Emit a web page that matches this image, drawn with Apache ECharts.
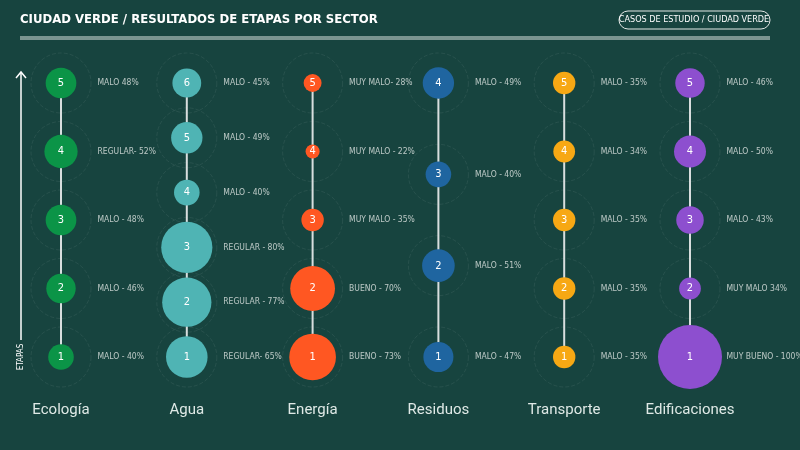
<!DOCTYPE html><html><head><meta charset="utf-8"><script src="https://cdn.jsdelivr.net/npm/echarts@6/dist/echarts.min.js"></script>
<style>html,body{margin:0;background:#17443f}#c{width:800px;height:450px}</style></head><body><div id="c"></div><script>
const sectors=['Ecología','Agua','Energía','Residuos','Transporte','Edificaciones'];
const colors=['#0b9447','#4fb4b4','#ff5722','#1f65a0','#f7a814','#8d4fcf'];
const pct=[[40,46,48,52,48],[65,77,80,40,49,45],[73,70,35,22,28],[47,51,40,49],[35,35,35,34,35],[100,34,43,50,46]];
const labels=[
['MALO - 40%','MALO - 46%','MALO - 48%','REGULAR- 52%','MALO 48%'],
['REGULAR- 65%','REGULAR - 77%','REGULAR - 80%','MALO - 40%','MALO - 49%','MALO - 45%'],
['BUENO - 73%','BUENO - 70%','MUY MALO - 35%','MUY MALO - 22%','MUY MALO- 28%'],
['MALO - 47%','MALO - 51%','MALO - 40%','MALO - 49%'],
['MALO - 35%','MALO - 35%','MALO - 35%','MALO - 34%','MALO - 35%'],
['MUY BUENO - 100%','MUY MALO 34%','MALO - 43%','MALO - 50%','MALO - 46%']];
const series=[];
const lf='"DejaVu Sans Condensed", sans-serif';
sectors.forEach((s,i)=>{
 const n=pct[i].length;
 const pts=pct[i].map((p,k)=>[i,k/(n-1),p,k+1]);
 series.push({type:'scatter',data:pts,symbolSize:60,silent:true,z:1,itemStyle:{color:'rgba(0,0,0,0)',borderColor:'rgba(255,255,255,0.09)',borderType:'dashed',borderWidth:1}});
 series.push({type:'line',data:pts,symbol:'none',z:2,lineStyle:{color:'#d8dede',width:2}});
 series.push({type:'scatter',data:pts,z:3,symbolSize:d=>d[2]*0.64,itemStyle:{color:colors[i],opacity:1},
  label:{show:true,position:'inside',formatter:p=>p.data[3],color:'#fff',fontSize:11,fontFamily:lf}});
 series.push({type:'scatter',data:pts,z:3,symbolSize:1,itemStyle:{color:'rgba(0,0,0,0)'},
  label:{show:true,position:'right',distance:36,formatter:p=>labels[i][p.dataIndex],color:'#e4e8e6',fontSize:8.5,fontFamily:lf}});
});
const ch=echarts.init(document.getElementById('c'));
ch.setOption({backgroundColor:'#17443f',
 grid:{left:61,right:110,top:83,bottom:93},
 xAxis:{type:'value',min:0,max:5,show:false},
 yAxis:{type:'value',min:0,max:1,show:false},
 graphic:[
  {type:'text',left:20,top:13,style:{text:'CIUDAD VERDE / RESULTADOS DE ETAPAS POR SECTOR',fill:'#fff',font:'bold 13px "DejaVu Sans Condensed"'}},
  {type:'rect',shape:{x:619,y:11,width:151,height:18,r:9},style:{fill:'none',stroke:'#e4e8e6',lineWidth:1}},
  {type:'text',x:694,y:20,style:{text:'CASOS DE ESTUDIO / CIUDAD VERDE',fill:'#fff',font:'9px "DejaVu Sans Condensed"',align:'center',verticalAlign:'middle'}},
  {type:'line',shape:{x1:20,y1:37,x2:770,y2:37},style:{stroke:'#dfe6e3',lineWidth:1}},
  {type:'line',shape:{x1:20,y1:39,x2:770,y2:39},style:{stroke:'#dfe6e3',lineWidth:1}},
  {type:'line',shape:{x1:21,y1:72,x2:21,y2:340},style:{stroke:'#fff',lineWidth:1.5}},
  {type:'polyline',shape:{points:[[16,78],[21,72],[26,78]]},style:{stroke:'#fff',lineWidth:1.5,fill:'none'}},
  {type:'text',x:21,y:357,rotation:Math.PI/2,style:{text:'ETAPAS',fill:'#fff',font:'8px "DejaVu Sans Condensed"',align:'center',verticalAlign:'middle'}},
  ...sectors.map((s,i)=>({type:'text',x:61+i*125.8,y:410,style:{text:s,fill:'#dfe9e6',font:'15px Roboto',align:'center',verticalAlign:'middle'}}))
 ],
 series});
</script></body></html>
